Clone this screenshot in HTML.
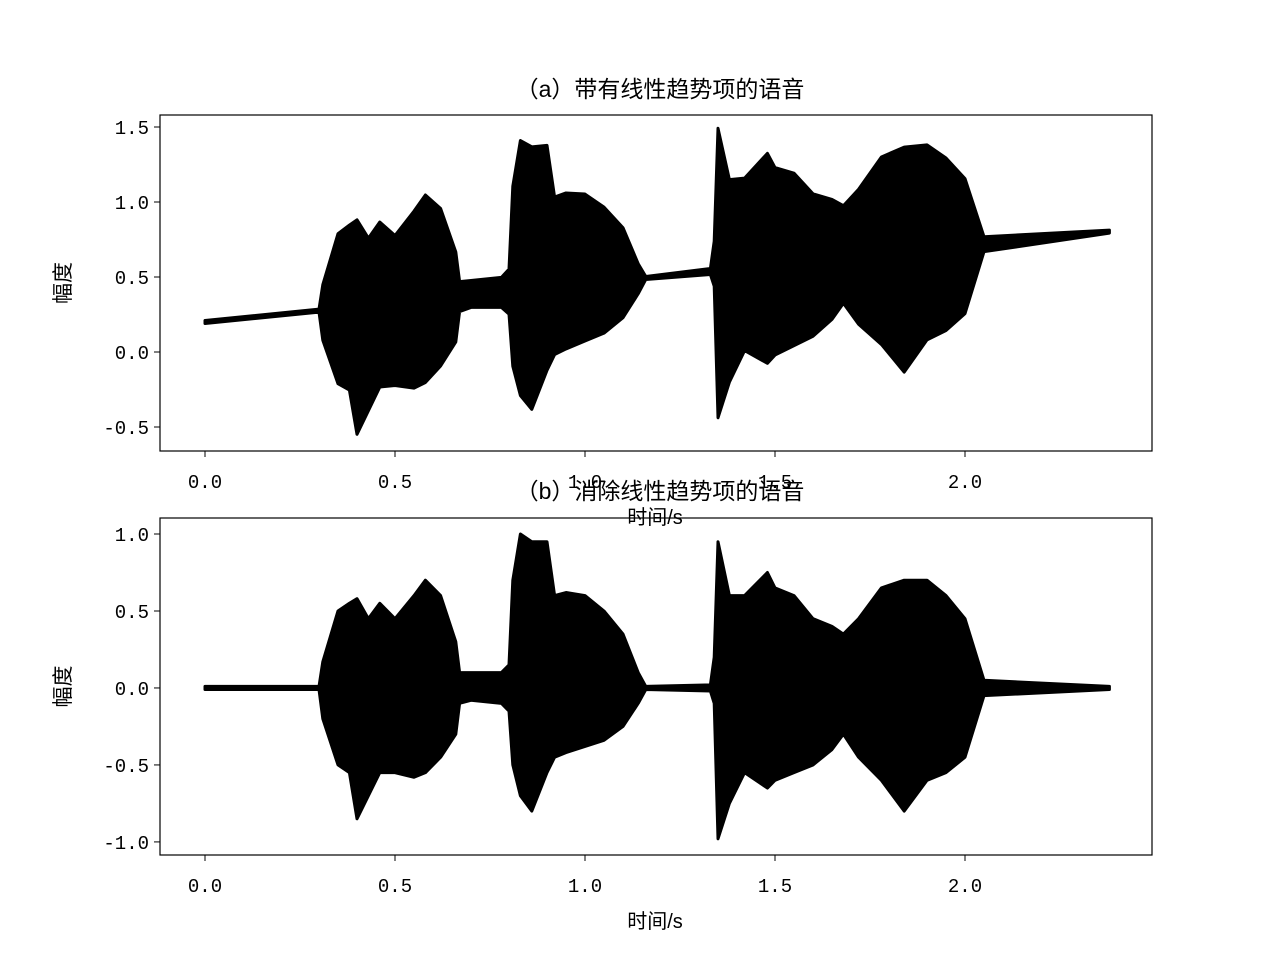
<!DOCTYPE html>
<html><head><meta charset="utf-8"><style>
body{margin:0;background:#fff;}
svg text{font-family:"Liberation Sans","Noto Sans CJK SC",sans-serif;fill:#000;}
svg text.mono{font-family:"Liberation Mono","Noto Sans CJK SC",monospace;}
</style></head><body>
<svg id="chart" width="1280" height="960" viewBox="0 0 1280 960"></svg>
<script>
// time points (s) and detrended envelope (upper / lower)
const times = [0.00,0.30,0.31,0.35,0.38,0.40,0.43,0.46,0.50,0.55,0.58,0.62,0.66,0.67,0.70,0.78,0.80,0.81,0.83,0.86,0.90,0.92,0.95,1.00,1.05,1.10,1.14,1.16,1.33,1.34,1.35,1.38,1.42,1.48,1.50,1.55,1.60,1.65,1.68,1.72,1.78,1.84,1.90,1.95,2.00,2.05,2.38];
const upper = [0.01,0.01,0.17,0.50,0.55,0.58,0.45,0.55,0.45,0.60,0.70,0.60,0.30,0.10,0.10,0.10,0.15,0.70,1.00,0.95,0.95,0.60,0.62,0.60,0.50,0.35,0.10,0.01,0.02,0.20,0.95,0.60,0.60,0.75,0.65,0.60,0.45,0.40,0.35,0.45,0.65,0.70,0.70,0.60,0.45,0.05,0.01];
const lower = [-0.01,-0.01,-0.20,-0.50,-0.55,-0.85,-0.70,-0.55,-0.55,-0.58,-0.55,-0.45,-0.30,-0.10,-0.08,-0.10,-0.15,-0.50,-0.70,-0.80,-0.55,-0.45,-0.42,-0.38,-0.34,-0.25,-0.10,-0.01,-0.02,-0.10,-0.98,-0.75,-0.55,-0.65,-0.60,-0.55,-0.50,-0.40,-0.30,-0.45,-0.60,-0.80,-0.60,-0.55,-0.45,-0.05,-0.01];
const trendStart = 0.2, trendSlope = 0.253;
const xTicks = [0.0,0.5,1.0,1.5,2.0];
const yTicksA = [-0.5,0.0,0.5,1.0,1.5];
const yTicksB = [-1.0,-0.5,0.0,0.5,1.0];

const NS="http://www.w3.org/2000/svg";
const svg=document.getElementById('chart');
function mk(tag,attrs,parent){const e=document.createElementNS(NS,tag);for(const k in attrs)e.setAttribute(k,attrs[k]);(parent||svg).appendChild(e);return e;}
const xPx = t => 205 + t*380;

function panel(name, top, bottom, yMin, yMax, ticks, withTrend, title, titleY){
  const g=mk('g',{});
  
  
  const yPx = v => bottom - (v - yMin)/(yMax - yMin)*(bottom - top);
  const tr = t => withTrend ? trendStart + trendSlope*t : 0;
  let pts=[];
  for(let i=0;i<times.length;i++) pts.push(xPx(times[i])+','+yPx(upper[i]+tr(times[i])));
  for(let i=times.length-1;i>=0;i--) pts.push(xPx(times[i])+','+yPx(lower[i]+tr(times[i])));
  const wave=mk('polygon',{points:pts.join(' '),fill:'#000',stroke:'#000','stroke-width':3,'stroke-linejoin':'round'},g);
  
  
  const frame=mk('rect',{x:160,y:top,width:992,height:bottom-top,fill:'none',stroke:'#000','stroke-width':1.2},g);
  
  
  ticks.forEach(v=>{
    const y=yPx(v);
    mk('line',{x1:154,x2:160,y1:y,y2:y,stroke:'#000'},g);
    const t=mk('text',{x:149,y:y+7,'text-anchor':'end','font-size':19,class:'mono'},g);
    t.textContent=(v<0?'-':'')+Math.abs(v).toFixed(1);
    
    
  });
  xTicks.forEach(v=>{
    const x=xPx(v);
    mk('line',{x1:x,x2:x,y1:bottom,y2:bottom+6,stroke:'#000'},g);
    const t=mk('text',{x:x,y:bottom+37,'text-anchor':'middle','font-size':19,class:'mono'},g);
    t.textContent=v.toFixed(1);
    
    
  });
  const xl=mk('text',{x:655,y:bottom+73,'text-anchor':'middle','font-size':20},g);
  xl.textContent='时间/s';
  
  
  const cy=(top+bottom)/2;
  const yl=mk('text',{x:0,y:0,'text-anchor':'middle','font-size':21,transform:`translate(70,${cy}) rotate(-90)`},g);
  yl.textContent='幅度';
  
  
  const ti=mk('text',{x:660,y:titleY,'text-anchor':'middle','font-size':23},g);
  ti.textContent=title;
  
  
}
panel('panel-a-with-trend',115,451,-0.66,1.58,yTicksA,true,'（a）带有线性趋势项的语音',97);
panel('panel-b-detrended',518,855,-1.085,1.104,yTicksB,false,'（b）消除线性趋势项的语音',499);
</script>
</body></html>
